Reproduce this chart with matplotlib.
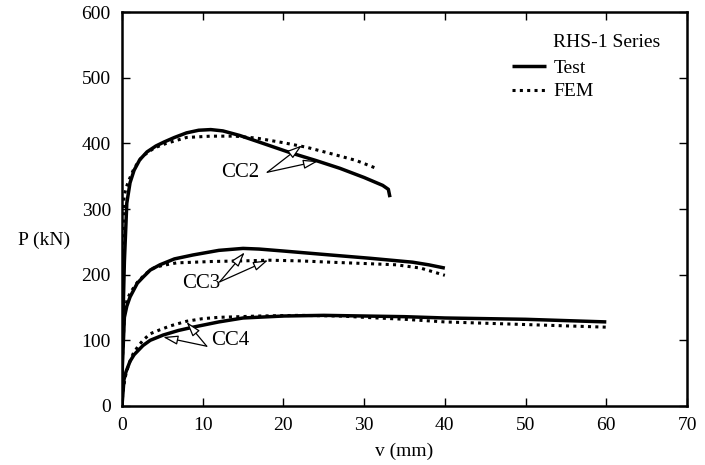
import matplotlib
matplotlib.use("Agg")
import matplotlib.pyplot as plt
from matplotlib.lines import Line2D

plt.rcParams['font.family'] = ['Liberation Serif', 'DejaVu Serif']

# ---- data ----
cc2_test_x = [0, 0.05, 0.3, 0.6, 1.0, 1.5, 2.2, 3.1, 4.2, 5.2, 6.5, 8, 9.5, 11, 12.5, 14.6, 17, 20.8, 24, 27, 30, 32.3, 33.0, 33.2]
cc2_test_y = [0, 96, 220, 309, 340, 359, 375, 387, 396, 402, 409, 416, 420, 421, 419, 412, 402, 386, 374, 362, 348, 336, 330, 318]
cc2_fem_x = [0, 0.05, 0.25, 0.5, 0.9, 1.5, 2.5, 4, 5.5, 8, 11, 14, 16.7, 20, 22.9, 26, 29, 31.3]
cc2_fem_y = [0, 120, 318, 332, 345, 362, 380, 393, 400, 409, 411, 411, 408, 401, 394, 384, 374, 363]

cc3_test_x = [0, 0.05, 0.3, 0.6, 1.0, 1.9, 2.6, 3.5, 4.7, 6.5, 8.8, 12, 15, 17, 20, 25.8, 30.7, 36, 38, 40]
cc3_test_y = [0, 60, 135, 152, 166, 187, 196, 207, 215, 224, 230, 237, 240, 239, 236, 230, 225, 219, 215, 210]
cc3_fem_x = [0, 0.05, 0.3, 0.6, 1, 2, 3, 3.9, 5, 6.8, 9, 11, 15, 18.3, 22, 25.8, 30, 34, 37, 40]
cc3_fem_y = [0, 70, 140, 160, 172, 190, 202, 210, 214, 218, 219, 220, 221, 222, 221, 219, 217, 215, 210, 199]

cc4_test_x = [0, 0.25, 0.5, 1, 1.5, 2.6, 3.5, 5.1, 7, 8.8, 12, 15, 20, 25, 30, 35, 40, 45, 50, 55, 60]
cc4_test_y = [0, 40, 52, 68, 78, 92, 100, 108, 115, 120, 128, 134, 137, 138, 137, 136, 134, 133, 132, 130, 128]
cc4_fem_x = [0, 0.1, 0.4, 0.8, 1.4, 2, 2.6, 3.5, 4.7, 6, 8, 10, 12, 17, 22, 27, 30, 35, 40, 45, 50, 55, 60]
cc4_fem_y = [0, 20, 44, 62, 80, 91, 100, 110, 116, 122, 129, 133, 135, 137, 138, 137, 135, 132, 128, 126, 124, 122, 120]

x_ticks = [0, 10, 20, 30, 40, 50, 60, 70]
y_ticks = [0, 100, 200, 300, 400, 500, 600]

# labels & arrows: (label, text pos, arrow tail, tip1, tip2)
annots = [
    ("CC2", (14.7, 356), (18.0, 356), (22.3, 397), (24.3, 373)),
    ("CC3", (9.8, 187), (12.1, 189), (15.2, 234), (18.1, 222)),
    ("CC4", (13.4, 99), (10.5, 91), (8.0, 128), (5.1, 105)),
]

fig = plt.figure(figsize=(7.05, 4.65), dpi=100)
ax = fig.add_axes([0.173, 0.127, 0.8015, 0.847])

solid_kw = dict(color='black', lw=2.5, solid_capstyle='butt')
dot_kw = dict(color='black', lw=2.2, linestyle=(0, (1, 1.4)), dash_capstyle='butt')

for tx, ty, fx, fy in [(cc2_test_x, cc2_test_y, cc2_fem_x, cc2_fem_y),
                       (cc3_test_x, cc3_test_y, cc3_fem_x, cc3_fem_y),
                       (cc4_test_x, cc4_test_y, cc4_fem_x, cc4_fem_y)]:
    ax.plot(fx, fy, **dot_kw)
    ax.plot(tx, ty, **solid_kw)

for lab, tpos, tail, tip1, tip2 in annots:
    ax.text(tpos[0], tpos[1], lab, fontsize=15, ha='center', va='center')
    for tip in (tip1, tip2):
        ax.annotate('', xy=tip, xytext=tail,
                    arrowprops=dict(arrowstyle='-|>,head_length=0.9,head_width=0.28',
                                    fc='white', ec='black', lw=0.9,
                                    shrinkA=0, shrinkB=0))

ax.set_xlim(0, 70)
ax.set_ylim(0, 600)
ax.set_xticks(x_ticks)
ax.set_yticks(y_ticks)
ax.tick_params(direction='in', length=6, width=1.0, top=True, right=True,
               labelsize=14, pad=8)
for s in ax.spines.values():
    s.set_linewidth(1.8)

ax.set_xlabel('v (mm)', fontsize=14, labelpad=6)
ax.set_ylabel('P (kN)', fontsize=14, rotation=0, ha='right', va='center')
ax.yaxis.set_label_coords(-0.092, 0.42)

ax.text(53.4, 554, 'RHS-1 Series', fontsize=14, ha='left', va='center')
handles = [Line2D([], [], **solid_kw), Line2D([], [], **dot_kw)]
ax.legend(handles, ['Test', 'FEM'], loc='upper left', bbox_to_anchor=(0.690, 0.88),
          frameon=False, fontsize=14, borderpad=0, borderaxespad=0,
          handlelength=1.75, handletextpad=0.4, labelspacing=0.3)

fig.savefig('out.png', dpi=100)
